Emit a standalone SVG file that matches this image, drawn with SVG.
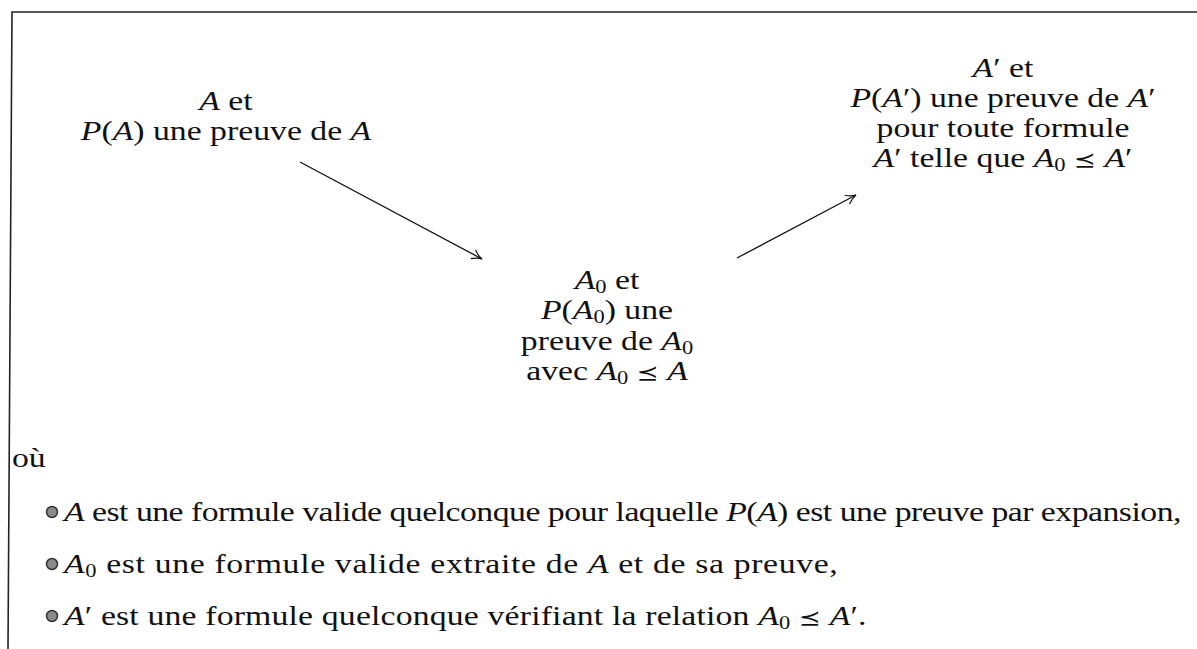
<svg xmlns="http://www.w3.org/2000/svg" width="1197" height="649" viewBox="0 0 1197 649">
<style>
text{font-family:"Liberation Serif","DejaVu Serif","Noto Serif","Times New Roman",serif;font-size:27px;fill:#111}
.i{font-style:italic}
.s{font-size:18px}
.rel{font-family:"DejaVu Sans","Liberation Serif",sans-serif;font-size:21px}
.edge{stroke:#111;stroke-width:1.3;fill:none}
.frame{stroke:#222;stroke-width:1.6;fill:none}
.bul{fill:#8a8a8a;stroke:#333;stroke-width:1.5}
</style>
<defs>
<marker id="arr" markerWidth="14" markerHeight="12" refX="11" refY="6" orient="auto" markerUnits="userSpaceOnUse">
<path d="M1,1 Q6,5 11,6 Q6,7 1,11" fill="none" stroke="#111" stroke-width="1.2"/>
</marker>
</defs>
<rect width="1197" height="649" fill="#fff"/>
<g id="frame">
<path class="frame" d="M1197,12 L12,12 L8,649"/>
</g>
<g id="node-a" text-anchor="middle">
<text transform="translate(226,110) scale(1.25,1)"><tspan class="i">A</tspan> et</text>
<text transform="translate(226,140) scale(1.25,1)"><tspan class="i">P</tspan>(<tspan class="i">A</tspan>) une preuve de <tspan class="i">A</tspan></text>
</g>
<g id="node-aprime" text-anchor="middle">
<text transform="translate(1003,77) scale(1.25,1)"><tspan class="i">A</tspan>′ et</text>
<text transform="translate(1003,107) scale(1.25,1)"><tspan class="i">P</tspan>(<tspan class="i">A</tspan>′) une preuve de <tspan class="i">A</tspan>′</text>
<text transform="translate(1003,137) scale(1.25,1)">pour toute formule</text>
<text transform="translate(1003,167) scale(1.25,1)"><tspan class="i">A</tspan>′ telle que <tspan class="i">A</tspan><tspan class="s" dy="4">0</tspan><tspan dy="-4"> </tspan><tspan class="rel">⪯</tspan> <tspan class="i">A</tspan>′</text>
</g>
<g id="node-a0" text-anchor="middle">
<text transform="translate(607,289) scale(1.25,1)"><tspan class="i">A</tspan><tspan class="s" dy="4">0</tspan><tspan dy="-4"> et</tspan></text>
<text transform="translate(607,319) scale(1.25,1)"><tspan class="i">P</tspan>(<tspan class="i">A</tspan><tspan class="s" dy="4">0</tspan><tspan dy="-4">) une</tspan></text>
<text transform="translate(607,350) scale(1.25,1)">preuve de <tspan class="i">A</tspan><tspan class="s" dy="4">0</tspan></text>
<text transform="translate(607,380) scale(1.25,1)">avec <tspan class="i">A</tspan><tspan class="s" dy="4">0</tspan><tspan dy="-4"> </tspan><tspan class="rel">⪯</tspan> <tspan class="i">A</tspan></text>
</g>
<g id="connectors">
<line class="edge" x1="300" y1="162" x2="482" y2="259" marker-end="url(#arr)"/>
<line class="edge" x1="737" y1="258" x2="856" y2="195" marker-end="url(#arr)"/>
</g>
<g id="legend">
<text transform="translate(12,467) scale(1.25,1)">où</text>
<circle class="bul" cx="52" cy="512" r="5.5"/>
<circle class="bul" cx="52" cy="564" r="5.5"/>
<circle class="bul" cx="52" cy="616" r="5.5"/>
<text transform="translate(64,521) scale(1.25,1)" textLength="894" lengthAdjust="spacing"><tspan class="i">A</tspan> est une formule valide quelconque pour laquelle <tspan class="i">P</tspan>(<tspan class="i">A</tspan>) est une preuve par expansion,</text>
<text transform="translate(64,573) scale(1.25,1)" textLength="619" lengthAdjust="spacing"><tspan class="i">A</tspan><tspan class="s" dy="4">0</tspan><tspan dy="-4"> est une formule valide extraite de </tspan><tspan class="i">A</tspan> et de sa preuve,</text>
<text transform="translate(64,625) scale(1.25,1)" textLength="642" lengthAdjust="spacing"><tspan class="i">A</tspan>′ est une formule quelconque vérifiant la relation <tspan class="i">A</tspan><tspan class="s" dy="4">0</tspan><tspan dy="-4"> </tspan><tspan class="rel">⪯</tspan> <tspan class="i">A</tspan>′.</text>
</g>
</svg>
